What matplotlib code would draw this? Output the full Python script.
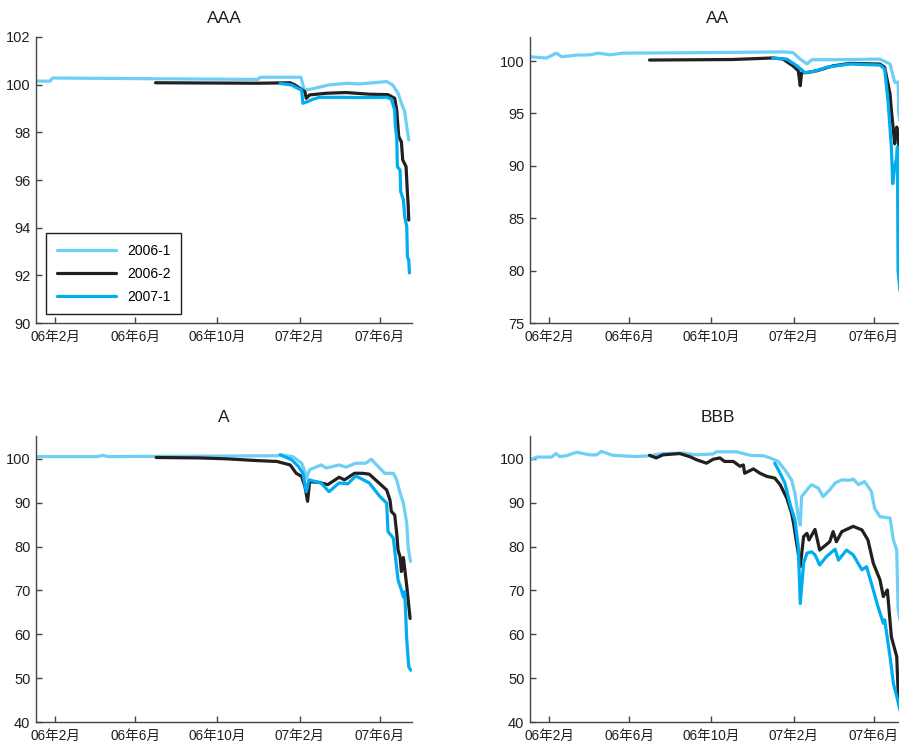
import pandas as pd
import matplotlib
matplotlib.use("Agg")
import matplotlib.pyplot as plt
import matplotlib.dates as mdates
from matplotlib.ticker import FuncFormatter, MultipleLocator

plt.rcParams['font.family'] = ['Liberation Sans', 'Noto Sans CJK SC', 'DejaVu Sans']

series_names = ["2006-1", "2006-2", "2007-1"]
series_colors = ["#6DCFF6", "#231F20", "#00AEEF"]

# ---- AAA ----
aaa_061_d = ["2006-01-04", "2006-01-25", "2006-01-28", "2006-06-22", "2006-12-01", "2006-12-04",
             "2007-02-03", "2007-02-08", "2007-02-16", "2007-03-17", "2007-04-13", "2007-05-01",
             "2007-05-21", "2007-06-11", "2007-06-20", "2007-06-28", "2007-07-04", "2007-07-08",
             "2007-07-11", "2007-07-14"]
aaa_061_v = [100.15, 100.15, 100.28, 100.25, 100.22, 100.31,
             100.31, 99.78, 99.8, 99.99, 100.06, 100.03,
             100.08, 100.13, 99.99, 99.64, 99.15, 98.87,
             98.24, 97.68]
aaa_062_d = ["2006-07-01", "2006-12-01", "2007-01-18", "2007-01-25", "2007-02-04", "2007-02-09",
             "2007-02-11", "2007-02-16", "2007-03-13", "2007-04-11", "2007-05-16", "2007-06-13",
             "2007-06-23", "2007-06-26", "2007-06-29", "2007-07-03", "2007-07-05", "2007-07-10",
             "2007-07-12", "2007-07-13", "2007-07-14"]
aaa_062_v = [100.08, 100.06, 100.08, 99.99, 99.8, 99.7,
             99.43, 99.57, 99.64, 99.67, 99.6, 99.58,
             99.43, 98.94, 97.82, 97.6, 96.84, 96.56,
             95.44, 95.03, 94.32]
aaa_071_d = ["2007-01-03", "2007-01-20", "2007-01-29", "2007-02-04", "2007-02-06", "2007-02-13",
             "2007-02-21", "2007-03-03", "2007-04-06", "2007-05-01", "2007-06-11", "2007-06-18",
             "2007-06-23", "2007-06-24", "2007-06-26", "2007-06-27", "2007-07-01", "2007-07-02",
             "2007-07-06", "2007-07-08", "2007-07-11", "2007-07-12", "2007-07-14", "2007-07-15"]
aaa_071_v = [100.05, 99.99, 99.85, 99.78, 99.22, 99.29,
             99.39, 99.47, 99.47, 99.46, 99.47, 99.39,
             98.94, 98.24, 97.82, 96.56, 96.42, 95.51,
             95.16, 94.46, 94.04, 92.78, 92.64, 92.1]

# ---- AA ----
aa_061_d = ["2006-01-04", "2006-01-28", "2006-02-12", "2006-02-20", "2006-03-14", "2006-04-03",
            "2006-04-16", "2006-05-03", "2006-05-22", "2006-09-01", "2007-01-16", "2007-01-31",
            "2007-02-11", "2007-02-21", "2007-02-28", "2007-04-01", "2007-06-10", "2007-06-25",
            "2007-07-02", "2007-07-07", "2007-07-08", "2007-07-13"]
aa_061_v = [100.41, 100.29, 100.76, 100.41, 100.57, 100.6,
            100.76, 100.6, 100.76, 100.8, 100.88, 100.82,
            100.19, 99.72, 100.13, 100.13, 100.19, 99.72,
            97.97, 98.0, 95.0, 93.0]
aa_062_d = ["2006-07-01", "2006-11-01", "2007-01-01", "2007-01-16", "2007-01-31", "2007-02-08",
            "2007-02-11", "2007-02-13", "2007-02-21", "2007-03-08", "2007-04-01", "2007-04-26",
            "2007-06-10", "2007-06-17", "2007-06-25", "2007-06-27", "2007-06-30", "2007-07-02",
            "2007-07-05", "2007-07-07", "2007-07-10", "2007-07-13"]
aa_062_v = [100.1, 100.15, 100.3, 100.2, 99.55, 99.08,
            97.65, 98.9, 98.9, 99.08, 99.55, 99.78,
            99.72, 99.4, 96.86, 95.28, 93.4, 92.1,
            93.7, 93.1, 90.0, 88.0]
aa_071_d = ["2007-01-01", "2007-01-22", "2007-02-06", "2007-02-18", "2007-03-02", "2007-03-22",
            "2007-04-06", "2007-04-26", "2007-06-10", "2007-06-17", "2007-06-22", "2007-06-27",
            "2007-06-29", "2007-07-02", "2007-07-05", "2007-07-06", "2007-07-07", "2007-07-10",
            "2007-07-13"]
aa_071_v = [100.29, 100.19, 99.55, 98.9, 99.0, 99.4,
            99.55, 99.72, 99.62, 99.24, 96.2, 91.8,
            88.3, 89.9, 90.8, 91.8, 80.0, 78.0,
            76.0]

# ---- A ----
a_061_d = ["2006-01-04", "2006-04-05", "2006-04-13", "2006-04-21", "2006-12-29", "2007-01-03",
           "2007-01-22", "2007-02-04", "2007-02-09", "2007-02-11", "2007-02-16", "2007-03-05",
           "2007-03-13", "2007-04-01", "2007-04-11", "2007-04-26", "2007-05-11", "2007-05-19",
           "2007-05-29", "2007-06-08", "2007-06-21", "2007-06-26", "2007-07-01", "2007-07-06",
           "2007-07-11", "2007-07-13", "2007-07-16", "2007-07-17"]
a_061_v = [100.5, 100.5, 100.8, 100.5, 100.7, 100.9,
           100.5, 99.0, 97.1, 95.6, 97.5, 98.6,
           97.9, 98.6, 98.1, 99.0, 99.0, 99.9,
           98.3, 96.7, 96.7, 95.2, 92.2, 89.9,
           85.3, 80.0, 77.0, 76.6]
a_062_d = ["2006-07-02", "2006-09-05", "2006-10-15", "2006-11-29", "2006-12-29", "2007-01-18",
           "2007-01-27", "2007-02-04", "2007-02-09", "2007-02-13", "2007-02-16", "2007-03-03",
           "2007-03-15", "2007-03-25", "2007-04-01", "2007-04-09", "2007-04-24", "2007-05-06",
           "2007-05-16", "2007-06-11", "2007-06-16", "2007-06-18", "2007-06-23", "2007-06-26",
           "2007-06-28", "2007-07-01", "2007-07-03", "2007-07-06", "2007-07-11", "2007-07-16"]
a_062_v = [100.3, 100.2, 100.0, 99.6, 99.4, 98.6,
           96.7, 96.0, 93.7, 90.3, 94.8, 94.6,
           94.1, 95.1, 95.8, 95.2, 96.7, 96.7,
           96.5, 92.9, 90.6, 88.0, 87.2, 83.0,
           79.2, 77.7, 74.3, 77.5, 71.0, 63.6]
a_071_d = ["2007-01-03", "2007-01-20", "2007-01-30", "2007-02-06", "2007-02-11", "2007-02-15",
           "2007-03-05", "2007-03-17", "2007-04-01", "2007-04-14", "2007-04-26", "2007-05-16",
           "2007-06-01", "2007-06-11", "2007-06-13", "2007-06-21", "2007-06-28", "2007-07-03",
           "2007-07-06", "2007-07-08", "2007-07-11", "2007-07-14", "2007-07-17"]
a_071_v = [100.9, 99.8, 98.3, 96.7, 92.5, 95.2,
           94.5, 92.5, 94.5, 94.3, 96.1, 94.5,
           91.4, 89.9, 83.4, 81.9, 72.4, 70.1,
           68.5, 69.7, 58.7, 52.6, 51.8]

# ---- BBB ----
bbb_061_d = ["2006-01-04", "2006-01-14", "2006-02-05", "2006-02-11", "2006-02-17", "2006-02-27",
             "2006-03-14", "2006-04-03", "2006-04-13", "2006-04-20", "2006-05-07", "2006-06-11",
             "2006-07-01", "2006-07-21", "2006-08-20", "2006-09-09", "2006-10-04", "2006-10-09",
             "2006-11-08", "2006-11-28", "2006-12-18", "2006-12-28", "2007-01-09", "2007-01-19",
             "2007-01-29", "2007-02-03", "2007-02-08", "2007-02-11", "2007-02-13", "2007-02-23",
             "2007-02-28", "2007-03-10", "2007-03-17", "2007-03-27", "2007-04-04", "2007-04-14",
             "2007-04-26", "2007-05-01", "2007-05-09", "2007-05-18", "2007-05-28", "2007-06-02",
             "2007-06-10", "2007-06-25", "2007-06-30", "2007-07-05", "2007-07-07", "2007-07-13"]
bbb_061_v = [99.8, 100.4, 100.4, 101.2, 100.5, 100.7,
             101.5, 100.9, 100.9, 101.7, 100.8, 100.5,
             100.7, 101.2, 101.3, 100.9, 101.1, 101.6,
             101.6, 100.8, 100.7, 100.2, 99.4, 97.5,
             95.2, 92.2, 86.8, 84.9, 91.4, 93.3,
             94.1, 93.3, 91.4, 92.9, 94.5, 95.2,
             95.1, 95.4, 94.1, 94.8, 92.6, 88.7,
             86.8, 86.5, 81.5, 79.2, 66.0, 60.0]
bbb_062_d = ["2006-07-01", "2006-07-11", "2006-07-21", "2006-08-15", "2006-08-30", "2006-09-09",
             "2006-09-24", "2006-10-04", "2006-10-14", "2006-10-21", "2006-11-03", "2006-11-13",
             "2006-11-18", "2006-11-20", "2006-12-03", "2006-12-13", "2006-12-23", "2007-01-04",
             "2007-01-12", "2007-01-22", "2007-01-29", "2007-02-01", "2007-02-06", "2007-02-11",
             "2007-02-16", "2007-02-21", "2007-02-24", "2007-03-05", "2007-03-12", "2007-03-27",
             "2007-04-01", "2007-04-06", "2007-04-14", "2007-05-01", "2007-05-14", "2007-05-23",
             "2007-05-31", "2007-06-10", "2007-06-15", "2007-06-21", "2007-06-27", "2007-07-05",
             "2007-07-07", "2007-07-13"]
bbb_062_v = [100.8, 100.2, 100.9, 101.2, 100.5, 99.8,
             99.0, 99.9, 100.2, 99.4, 99.4, 98.3,
             98.6, 96.7, 97.7, 96.7, 96.0, 95.6,
             94.1, 91.0, 87.6, 85.3, 80.4, 75.4,
             82.3, 83.0, 81.5, 83.9, 79.2, 81.1,
             83.4, 81.1, 83.4, 84.6, 83.8, 81.5,
             76.2, 72.4, 68.6, 70.1, 59.4, 54.9,
             47.2, 42.0]
bbb_071_d = ["2007-01-04", "2007-01-12", "2007-01-19", "2007-01-27", "2007-02-03", "2007-02-08",
             "2007-02-11", "2007-02-16", "2007-02-21", "2007-02-28", "2007-03-05", "2007-03-12",
             "2007-03-22", "2007-04-04", "2007-04-09", "2007-04-21", "2007-05-01", "2007-05-14",
             "2007-05-21", "2007-05-31", "2007-06-07", "2007-06-15", "2007-06-17", "2007-06-25",
             "2007-06-30", "2007-07-07", "2007-07-13"]
bbb_071_v = [99.0, 96.7, 94.5, 89.5, 86.1, 80.0,
             67.0, 76.2, 78.5, 78.8, 78.1, 75.8,
             77.7, 79.4, 76.9, 79.2, 78.1, 74.7,
             75.4, 70.1, 66.3, 62.5, 63.3, 54.9,
             48.8, 44.6, 40.5]

panels = [
    ("AAA", [(aaa_061_d, aaa_061_v), (aaa_062_d, aaa_062_v), (aaa_071_d, aaa_071_v)], (90, 102), 2),
    ("AA", [(aa_061_d, aa_061_v), (aa_062_d, aa_062_v), (aa_071_d, aa_071_v)], (75, 102.3), 5),
    ("A", [(a_061_d, a_061_v), (a_062_d, a_062_v), (a_071_d, a_071_v)], (40, 105.2), 10),
    ("BBB", [(bbb_061_d, bbb_061_v), (bbb_062_d, bbb_062_v), (bbb_071_d, bbb_071_v)], (40, 105.2), 10),
]

# axes boxes in pixels (right column runs a bit past the figure edge, as in the source)
W, H = 899, 749
boxes = [(36, 37), (530, 37), (36, 436), (530, 436)]
ax_w, ax_h = 376, 286

fig = plt.figure(figsize=(W / 100, H / 100), dpi=100)

xmin = pd.Timestamp("2006-01-03 14:00")
xmax = pd.Timestamp("2007-07-18 20:00")

def month_label(x, pos):
    d = mdates.num2date(x)
    return f"{d:%y}年{d.month}月"

for i, (title, lines, ylim, ystep) in enumerate(panels):
    left, top = boxes[i]
    ax = fig.add_axes([left / W, 1 - (top + ax_h) / H, ax_w / W, ax_h / H])
    for (d, v), name, c in zip(lines, series_names, series_colors):
        ax.plot(pd.to_datetime(d), v, color=c, lw=2.3, label=name,
                solid_joinstyle="round", solid_capstyle="round")
    ax.set_xlim(xmin, xmax)
    ax.set_ylim(*ylim)
    ax.yaxis.set_major_locator(MultipleLocator(ystep))
    ax.xaxis.set_major_locator(mdates.MonthLocator(bymonth=[2, 6, 10]))
    ax.xaxis.set_major_formatter(FuncFormatter(month_label))
    for s in ["top", "right"]:
        ax.spines[s].set_visible(False)
    for s in ["left", "bottom"]:
        ax.spines[s].set_color("#444444")
        ax.spines[s].set_linewidth(1.0)
    ax.tick_params(direction="in", length=4, width=1, color="#444444", labelcolor="#231F20")
    ax.tick_params(axis="x", pad=5, labelsize=9.8)
    ax.tick_params(axis="y", pad=4, labelsize=10.5)
    ax.set_title(title, fontsize=12.5, pad=10, color="#231F20")
    if i == 0:
        leg = ax.legend(loc="lower left", bbox_to_anchor=(0.027, 0.031), borderaxespad=0,
                        fontsize=10, handlelength=4.3, handletextpad=0.8, labelspacing=0.65,
                        borderpad=0.75, fancybox=False, edgecolor="#231F20", framealpha=1)
        leg.get_frame().set_linewidth(1.0)
        for ln in leg.get_lines():
            ln.set_linewidth(2.3)

fig.savefig("out.png", dpi=100)
